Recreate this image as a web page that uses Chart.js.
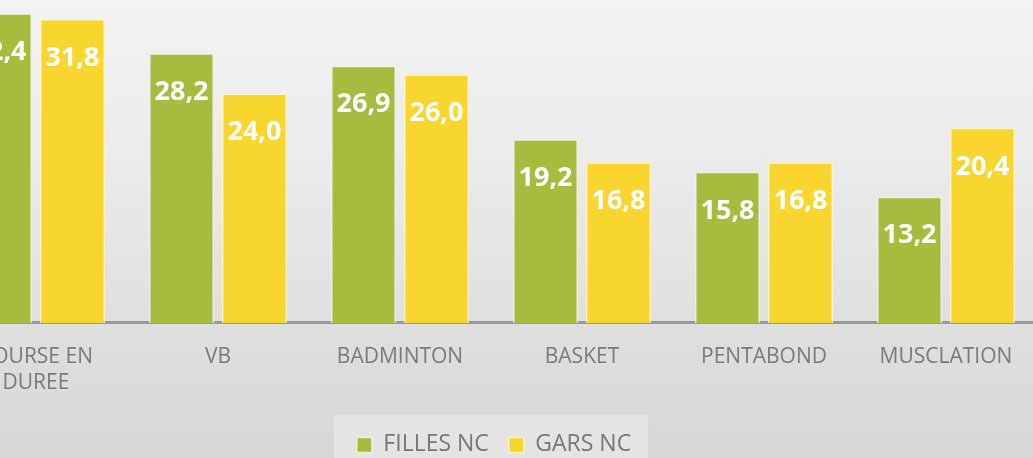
<!DOCTYPE html>
<html>
<head>
<meta charset="utf-8">
<script src="https://cdn.jsdelivr.net/npm/chart.js@4.4.1/dist/chart.umd.min.js"></script>
<style>
  html, body { margin: 0; padding: 0; }
  body {
    width: 1033px; height: 458px; overflow: hidden; position: relative;
    background: linear-gradient(180deg, #f3f3f3 0%, #ebebeb 35%, #dedede 75%, #d7d7d7 100%);
  }
  #wrap { position: absolute; left: -55px; top: -114px; width: 1092px; height: 580.4px; }
</style>
</head>
<body>
<div id="wrap"><canvas id="c"></canvas></div>
<script>
const categories = [['COURSE EN', 'DUREE'], 'VB', 'BADMINTON', 'BASKET', 'PENTABOND', 'MUSCLATION'];
const fillesNC = [32.4, 28.2, 26.9, 19.2, 15.8, 13.2];
const garsNC = [31.8, 24.0, 26.0, 16.8, 16.8, 20.4];
const seriesNames = ['FILLES NC', 'GARS NC'];

const valueLabels = {
  id: 'valueLabels',
  afterDatasetsDraw(chart) {
    const ctx = chart.ctx;
    ctx.save();
    ctx.font = 'bold 27px "Open Sans"';
    ctx.fillStyle = '#ffffff';
    ctx.textAlign = 'center';
    ctx.textBaseline = 'middle';
    chart.data.datasets.forEach((ds, di) => {
      const meta = chart.getDatasetMeta(di);
      meta.data.forEach((bar, i) => {
        const v = ds.data[i];
        ctx.fillText(v.toFixed(1).replace('.', ','), bar.x, bar.y + 39);
      });
    });
    ctx.restore();
  }
};

const legendShift = {
  id: 'legendShift',
  afterLayout(chart) {
    const lg = chart.legend;
    if (!lg) return;
    lg.left += 3;
    lg.right += 3;
  }
};

const legendBg = {
  id: 'legendBg',
  beforeDraw(chart) {
    const lg = chart.legend;
    if (!lg || !lg.legendHitBoxes || !lg.legendHitBoxes.length) return;
    const hb = lg.legendHitBoxes;
    const first = hb[0], last = hb[hb.length - 1];
    const ctx = chart.ctx;
    ctx.save();
    ctx.fillStyle = '#e4e4e4';
    const left = first.left - 23;
    const right = last.left + last.width + 17;
    ctx.fillRect(left, first.top - 18, right - left, 200);
    ctx.restore();
  }
};

new Chart(document.getElementById('c'), {
  type: 'bar',
  data: {
    labels: categories,
    datasets: [
      { label: seriesNames[0], data: fillesNC, backgroundColor: '#a5bc3f', borderColor: 'rgba(240,244,215,0.9)', borderWidth: 1.5 },
      { label: seriesNames[1], data: garsNC, backgroundColor: '#f9d530', borderColor: 'rgba(252,244,200,0.9)', borderWidth: 1.5 }
    ]
  },
  options: {
    responsive: true,
    maintainAspectRatio: false,
    animation: false,
    categoryPercentage: 0.802,
    barPercentage: 0.89,
    layout: { padding: { top: 0, left: 0, right: 0, bottom: 0 } },
    scales: {
      x: {
        grid: { display: false, drawTicks: false },
        border: { display: true, color: '#999999', width: 3 },
        ticks: { color: '#7a7a7a', font: { family: 'Open Sans', size: 21, lineHeight: 1.25 }, padding: 21, maxRotation: 0, autoSkip: false },
        afterFit(scale) { scale.height -= 4; }
      },
      y: { display: false, min: 0, max: 45.7 }
    },
    plugins: {
      legend: {
        position: 'bottom',
        labels: {
          color: '#777777',
          font: { family: 'Open Sans', size: 23 },
          boxWidth: 15, boxHeight: 15, padding: 20
        }
      },
      tooltip: { enabled: false }
    }
  },
  plugins: [legendShift, valueLabels, legendBg]
});
</script>
</body>
</html>
